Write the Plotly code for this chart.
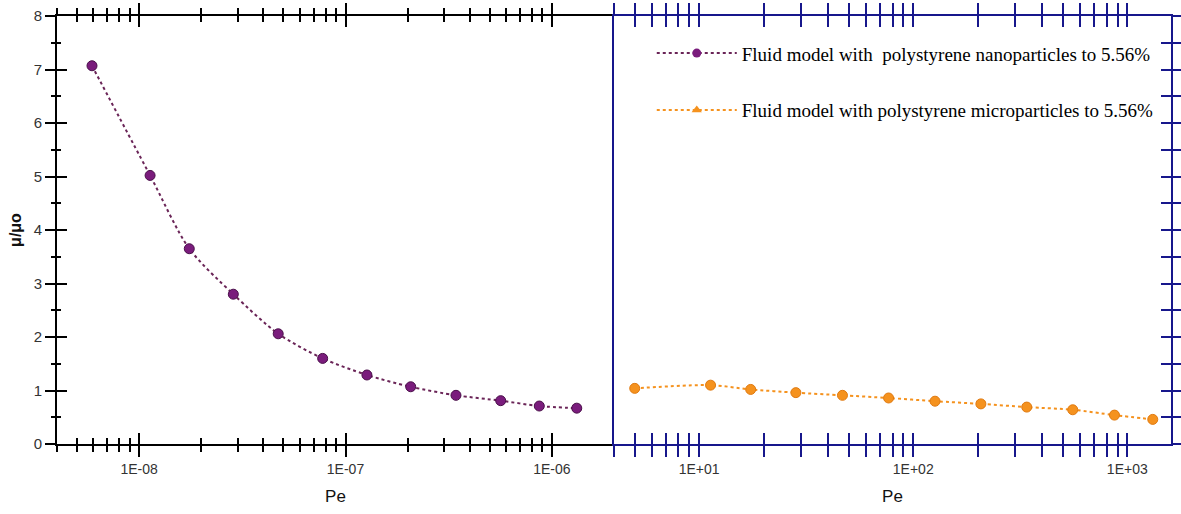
import numpy as np
import plotly.graph_objects as go

# Péclet number vs relative viscosity, nanoparticle suspension
nano_pe = [5.91e-9, 1.13e-8, 1.75e-8, 2.86e-8, 4.72e-8, 7.75e-8,
           1.27e-7, 2.07e-7, 3.43e-7, 5.65e-7, 8.69e-7, 1.32e-6]
nano_mu = [7.07, 5.02, 3.65, 2.80, 2.06, 1.60, 1.29, 1.07, 0.91, 0.81, 0.71, 0.67]

# Péclet number vs relative viscosity, microparticle suspension
micro_pe = [5.0, 11.3, 17.4, 28.3, 46.7, 76.7, 126.4, 207, 339, 556, 871, 1315]
micro_mu = [1.04, 1.10, 1.02, 0.96, 0.91, 0.86, 0.80, 0.75, 0.69, 0.64, 0.54, 0.46]

nano_label = "Fluid model with\u00a0 polystyrene nanoparticles to 5.56%"
micro_label = "Fluid model with polystyrene microparticles to 5.56%"

left_ticks = [1e-8, 1e-7, 1e-6]
left_ticktext = ["1E-08", "1E-07", "1E-06"]
right_ticks = [1e1, 1e2, 1e3]
right_ticktext = ["1E+01", "1E+02", "1E+03"]

PURPLE = "#7a1c7c"
PURPLE_LINE = "#6a2457"
ORANGE = "#f5921e"
NAVY = "#17178c"
BLACK = "#000000"

left_range = [np.log10(4e-9), np.log10(2e-6)]
right_range = [np.log10(4), np.log10(1600)]

fig = go.Figure()

fig.add_trace(go.Scatter(
    x=nano_pe, y=nano_mu, mode="lines+markers", xaxis="x", yaxis="y",
    line=dict(color=PURPLE_LINE, width=2, dash="dot", shape="spline", smoothing=0.8),
    marker=dict(symbol="circle", size=10, color=PURPLE, line=dict(color="#4a0f4a", width=1)),
    showlegend=False,
))
fig.add_trace(go.Scatter(
    x=micro_pe, y=micro_mu, mode="lines+markers", xaxis="x2", yaxis="y2",
    line=dict(color=ORANGE, width=2, dash="dot", shape="spline", smoothing=0.8),
    marker=dict(symbol="circle", size=10, color=ORANGE, line=dict(color="#e07a10", width=1)),
    showlegend=False,
))

# transparent companions so the inward-tick overlay axes get rendered
for xa, ya, xs, ys in [("x3", "y", nano_pe, nano_mu), ("x", "y3", nano_pe, nano_mu),
                       ("x4", "y2", micro_pe, micro_mu), ("x2", "y4", micro_pe, micro_mu)]:
    fig.add_trace(go.Scatter(
        x=xs, y=ys, mode="markers", xaxis=xa, yaxis=ya,
        marker=dict(opacity=0, size=1), hoverinfo="skip", showlegend=False,
    ))

# legend entries
fig.add_trace(go.Scatter(
    x=[None], y=[None], mode="lines+markers", xaxis="x2", yaxis="y2",
    name=nano_label, legend="legend",
    line=dict(color=PURPLE_LINE, width=2, dash="dot"),
    marker=dict(symbol="circle", size=9, color=PURPLE),
))
fig.add_trace(go.Scatter(
    x=[None], y=[None], mode="lines+markers", xaxis="x2", yaxis="y2",
    name=micro_label, legend="legend2",
    line=dict(color=ORANGE, width=2, dash="dot"),
    marker=dict(symbol="triangle-up", size=9, color=ORANGE),
))

tick_font = dict(family="Liberation Sans, Arial, sans-serif", size=14, color="#333333")
title_font = dict(family="Liberation Sans, Arial, sans-serif", size=17, color="#111111")
legend_font = dict(family="Liberation Serif, Times New Roman, serif", size=19, color="#000000")

common_x = dict(type="log", showgrid=False, zeroline=False, linewidth=2, tickwidth=2, automargin=False)
common_y = dict(showgrid=False, zeroline=False, automargin=False)

layout = dict(
    width=1181, height=514,
    margin=dict(l=57, r=10, t=16, b=70, autoexpand=False),
    paper_bgcolor="white", plot_bgcolor="white",
    # left panel
    xaxis=dict(
        **common_x, domain=[0, 0.5], range=left_range, anchor="y",
        showline=True, linecolor=BLACK, mirror="ticks",
        ticks="outside", ticklen=11, tickcolor=BLACK,
        tickvals=left_ticks, ticktext=left_ticktext, tickfont=tick_font,
        minor=dict(dtick="D1", ticks="outside", ticklen=6, tickwidth=2, tickcolor=BLACK, showgrid=False),
        title=dict(text="Pe", font=title_font, standoff=14),
    ),
    xaxis3=dict(
        **common_x, range=left_range, overlaying="x", anchor="y", side="bottom",
        showline=False, mirror="ticks", ticks="inside", ticklen=11, tickcolor=BLACK,
        tickvals=left_ticks, showticklabels=False,
        minor=dict(dtick="D1", ticks="inside", ticklen=6, tickwidth=2, tickcolor=BLACK, showgrid=False),
    ),
    yaxis=dict(
        **common_y, domain=[0, 1], range=[0, 8], anchor="x",
        showline=True, linecolor=BLACK, linewidth=2, mirror=False,
        ticks="outside", ticklen=10, tickwidth=2, tickcolor=BLACK, dtick=1, tick0=0,
        tickfont=dict(family="Liberation Sans, Arial, sans-serif", size=15, color="#333333"),
        minor=dict(dtick=0.5, ticks="outside", ticklen=4, tickwidth=2, tickcolor=BLACK, showgrid=False),
        title=dict(text="<b>μ/μo</b>", font=dict(family="Liberation Sans, Arial, sans-serif", size=16, color="#111111"), standoff=8),
    ),
    yaxis3=dict(
        **common_y, range=[0, 8], overlaying="y", anchor="x", side="left",
        showline=False, ticks="inside", ticklen=10, tickwidth=2, tickcolor=BLACK, dtick=1, tick0=0,
        showticklabels=False,
        minor=dict(dtick=0.5, ticks="inside", ticklen=4, tickwidth=2, tickcolor=BLACK, showgrid=False),
    ),
    # right panel
    xaxis2=dict(
        **common_x, domain=[0.5, 1], range=right_range, anchor="y2",
        showline=True, linecolor=NAVY, mirror="ticks",
        ticks="outside", ticklen=11, tickcolor=NAVY,
        tickvals=right_ticks, ticktext=right_ticktext, tickfont=tick_font,
        minor=dict(dtick="D1", ticks="outside", ticklen=11, tickwidth=2, tickcolor=NAVY, showgrid=False),
        title=dict(text="Pe", font=title_font, standoff=14),
    ),
    xaxis4=dict(
        **common_x, range=right_range, overlaying="x2", anchor="y2", side="bottom",
        showline=False, mirror="ticks", ticks="inside", ticklen=11, tickcolor=NAVY,
        tickvals=right_ticks, showticklabels=False,
        minor=dict(dtick="D1", ticks="inside", ticklen=11, tickwidth=2, tickcolor=NAVY, showgrid=False),
    ),
    yaxis2=dict(
        **common_y, domain=[0, 1], range=[0, 8], anchor="x2", side="right",
        showline=True, linecolor=NAVY, linewidth=2, mirror=True,
        ticks="outside", ticklen=10, tickwidth=2, tickcolor=NAVY, dtick=0.5, tick0=0,
        showticklabels=False,
    ),
    yaxis4=dict(
        **common_y, range=[0, 8], overlaying="y2", anchor="x2", side="right",
        showline=False, ticks="inside", ticklen=10, tickwidth=2, tickcolor=NAVY, dtick=0.5, tick0=0,
        showticklabels=False,
    ),
    legend=dict(
        x=0.5339, y=0.913, xanchor="left", yanchor="middle", bgcolor="rgba(0,0,0,0)",
        itemwidth=80, font=legend_font,
    ),
    legend2=dict(
        x=0.5339, y=0.780, xanchor="left", yanchor="middle", bgcolor="rgba(0,0,0,0)",
        itemwidth=80, font=legend_font,
    ),
)

fig.update_layout(**layout)
fig.write_html("out.html")
